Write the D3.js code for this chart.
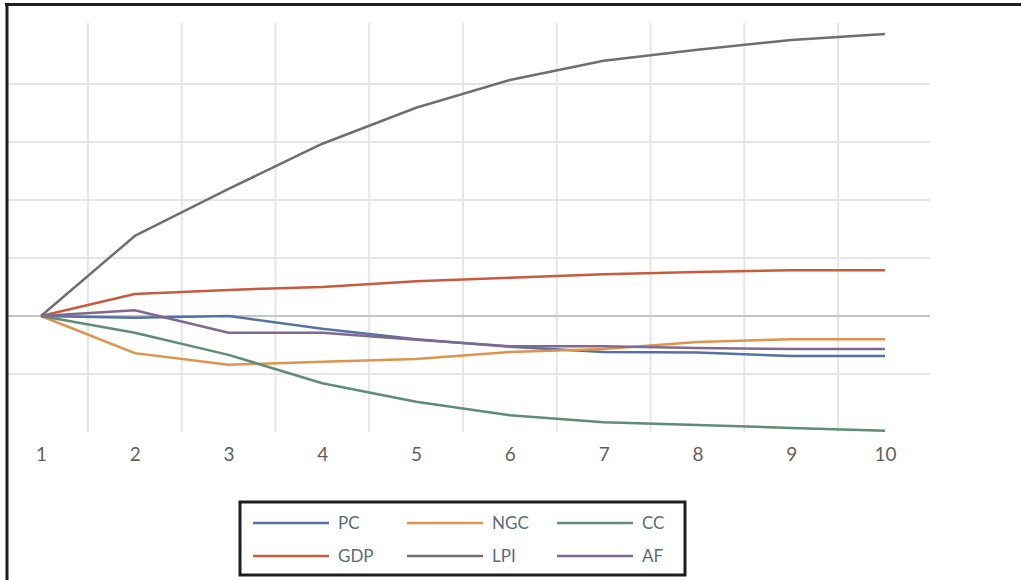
<!DOCTYPE html>
<html>
<head>
<meta charset="utf-8">
<script src="https://cdn.jsdelivr.net/npm/d3@7"></script>
<style>
  html, body { margin: 0; padding: 0; background: #fff; }
  svg { display: block; }
</style>
</head>
<body>
<svg id="chart" width="1021" height="580"></svg>
<script>
// ---- Data ----
const categories = ["1","2","3","4","5","6","7","8","9","10"];
const PC  = [0, -0.03, 0.00, -0.22, -0.40, -0.53, -0.62, -0.63, -0.69, -0.69];
const NGC = [0, -0.64, -0.84, -0.79, -0.74, -0.62, -0.57, -0.45, -0.40, -0.40];
const CC  = [0, -0.29, -0.67, -1.16, -1.48, -1.71, -1.83, -1.88, -1.93, -1.98];
const GDP = [0, 0.38, 0.45, 0.50, 0.60, 0.66, 0.72, 0.76, 0.79, 0.79];
const LPI = [0, 1.38, 2.19, 2.97, 3.59, 4.07, 4.40, 4.59, 4.76, 4.86];
const AF  = [0, 0.10, -0.29, -0.29, -0.41, -0.52, -0.52, -0.55, -0.57, -0.57];
const yTicks = [-1, 0, 1, 2, 3, 4];

const series = [
  { name: "PC",  values: PC,  color: "#5672a3" },
  { name: "NGC", values: NGC, color: "#e0934c" },
  { name: "CC",  values: CC,  color: "#5e8c74" },
  { name: "GDP", values: GDP, color: "#c95a40" },
  { name: "LPI", values: LPI, color: "#6f6f72" },
  { name: "AF",  values: AF,  color: "#80698f" }
];

const svg = d3.select("#chart");

const x = d3.scalePoint().domain(categories).range([41, 885]);
const step = x.step();
const y = d3.scaleLinear().domain([-2, 5]).range([432, 26]);

const plotLeft = 8, plotRight = x(categories[categories.length - 1]) + step / 2 - 2;

// vertical gridlines between categories
const vx = categories.slice(0, -1).map((c, i) => (x(c) + x(categories[i + 1])) / 2);
svg.append("g").selectAll("line").data(vx).join("line")
  .attr("x1", d => d).attr("x2", d => d)
  .attr("y1", y(5) - 3).attr("y2", y(-2))
  .attr("stroke", "#e6e6e6").attr("stroke-width", 2);

// horizontal gridlines
svg.append("g").selectAll("line").data(yTicks).join("line")
  .attr("x1", plotLeft).attr("x2", plotRight)
  .attr("y1", d => y(d)).attr("y2", d => y(d))
  .attr("stroke", d => d === 0 ? "#c4c4c4" : "#e6e6e6")
  .attr("stroke-width", 2);

// x axis labels
const xAxis = d3.axisBottom(x).tickSize(0).tickPadding(0);
const gx = svg.append("g").attr("transform", `translate(0, ${y(-2) + 15})`).call(xAxis);
gx.select(".domain").remove();
gx.selectAll("text")
  .attr("font-family", "Lato, 'Open Sans', sans-serif")
  .attr("font-size", 19)
  .attr("fill", "#5f5f5f");

// lines
const line = d3.line()
  .x((d, i) => x(categories[i]))
  .y(d => y(d));

svg.append("g").selectAll("path").data(series).join("path")
  .attr("d", d => line(d.values))
  .attr("fill", "none")
  .attr("stroke", d => d.color)
  .attr("stroke-width", 2.5)
  .attr("stroke-linejoin", "round");

// legend
const legend = svg.append("g");
legend.append("rect")
  .attr("x", 240).attr("y", 502).attr("width", 445).attr("height", 73)
  .attr("fill", "#fff").attr("stroke", "#1e1e1e").attr("stroke-width", 3);

const colX = [253, 407, 557];
const rowY = [523, 556];
series.forEach((s, i) => {
  const cx = colX[i % 3], cy = rowY[Math.floor(i / 3)];
  legend.append("line")
    .attr("x1", cx).attr("x2", cx + 76)
    .attr("y1", cy).attr("y2", cy)
    .attr("stroke", s.color).attr("stroke-width", 2.5);
  legend.append("text")
    .attr("x", cx + 85).attr("y", cy)
    .attr("dy", "0.35em")
    .attr("font-family", "Lato, 'Open Sans', sans-serif")
    .attr("font-size", 17)
    .attr("fill", "#5a6a7a")
    .text(s.name);
});

// frame (top and left borders of the scanned figure)
svg.append("line").attr("x1", 5).attr("x2", 1021).attr("y1", 4.5).attr("y2", 4.5)
  .attr("stroke", "#1e1e1e").attr("stroke-width", 3);
svg.append("line").attr("x1", 7).attr("x2", 7).attr("y1", 3).attr("y2", 580)
  .attr("stroke", "#1e1e1e").attr("stroke-width", 3);
</script>
</body>
</html>
